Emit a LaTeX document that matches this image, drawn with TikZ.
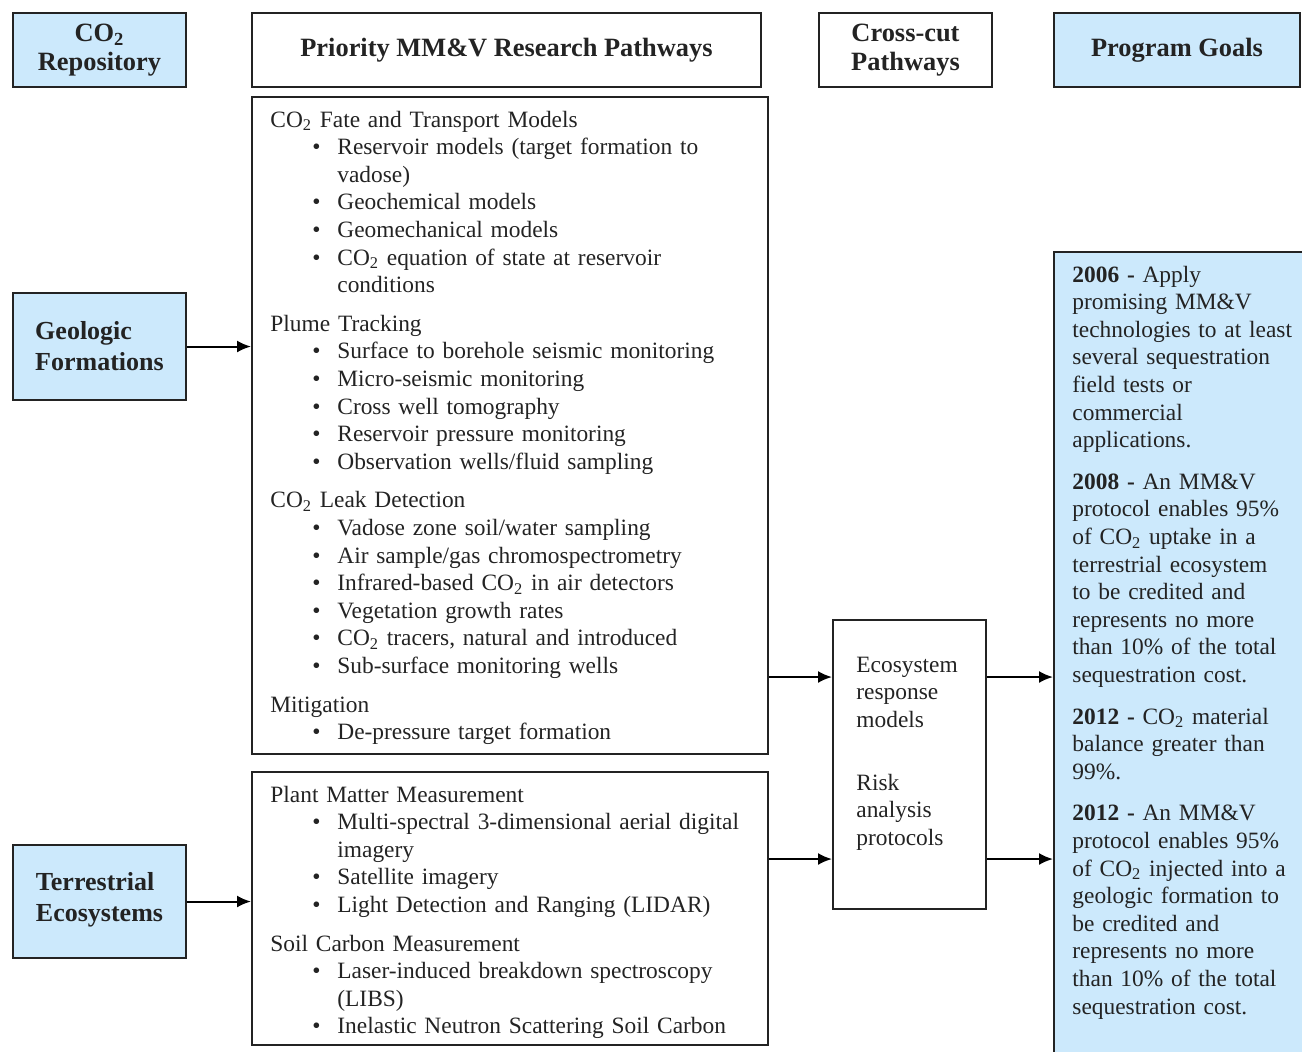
\documentclass[tikz,border=0pt]{standalone}
\usepackage{fontspec}
\setmainfont{Liberation Serif}
\usetikzlibrary{arrows.meta,positioning}

\definecolor{goalblue}{RGB}{204,233,252}
\definecolor{inkgray}{RGB}{35,35,35}

\newcommand{\COtwo}{CO\textsubscript{2}}
\newcommand{\bitem}[1]{\par\hangindent=33.5pt\hangafter=1\noindent\hspace*{21pt}\makebox[12.5pt][l]{\textbullet}#1}
\newcommand{\grp}[1]{\par\vspace{5.5pt}\noindent #1}
\newcommand{\goalgap}{\par\vspace{7pt}}

\begin{document}
\begin{tikzpicture}[x=0.5pt, y=0.5pt,
    box/.style = {draw=inkgray, line width=1pt, inner sep=0pt},
    bluebox/.style = {box, fill=goalblue},
    hdr/.style = {align=center, text=inkgray, font=\bfseries\fontsize{13.2}{14.5}\selectfont},
    side/.style = {bluebox, align=left, text=inkgray, font=\bfseries\fontsize{13}{15.5}\selectfont, minimum width=86.5pt},
    body/.style = {anchor=base west, inner sep=0pt, align=left, text=inkgray, font=\fontsize{11.7}{13.8}\selectfont},
    arr/.style = {-{Latex[length=7pt,width=6pt]}, line width=1pt, draw=black}]
    \useasboundingbox (0,0) rectangle (1302,-1051);
    \clip (0,0) rectangle (1302,-1051);
    % column headers
    \node[bluebox, hdr, minimum width=86.5pt, minimum height=37pt] (repo) at (99.5,-50) {\COtwo\\Repository};
    \node[box, hdr, minimum width=254.5pt, minimum height=37pt] (prio) at (506.5,-50) {Priority MM\&V Research Pathways};
    \node[box, hdr, minimum width=86.5pt, minimum height=37pt] (cross) at (905.5,-50) {Cross-cut\\Pathways};
    \node[bluebox, hdr, minimum width=123pt, minimum height=37pt] (goalhd) at (1177,-50) {Program Goals};
    % repositories
    \node[side, minimum height=53.5pt] (geo) at (99.5,-346.5) {Geologic\\Formations};
    \node[side, minimum height=56.5pt, text depth=5pt] (terr) at (99.5,-901.5) {Terrestrial\\Ecosystems};
    % pathway boxes
    \node[box, minimum width=258pt, minimum height=328.5pt] (box1) at (510,-425.5) {};
    \node[box, minimum width=258pt, minimum height=136.5pt] (box2) at (510,-908.5) {};
    \node[box, minimum width=76.5pt, minimum height=144.5pt] (cc) at (909.5,-764.5) {};
    \node[bluebox, minimum width=138pt, minimum height=414pt] (goals) at (1192,-666) {};

    \node[body, text width=252pt] (txtA) at ([shift={(19,-31)}]box1.north west) {%
        \COtwo{} Fate and Transport Models
        \bitem{Reservoir models (target formation to\newline vadose)}
        \bitem{Geochemical models}
        \bitem{Geomechanical models}
        \bitem{\COtwo{} equation of state at reservoir\newline conditions}
        \grp{Plume Tracking}
        \bitem{Surface to borehole seismic monitoring}
        \bitem{Micro-seismic monitoring}
        \bitem{Cross well tomography}
        \bitem{Reservoir pressure monitoring}
        \bitem{Observation wells/fluid sampling}
        \grp{\COtwo{} Leak Detection}
        \bitem{Vadose zone soil/water sampling}
        \bitem{Air sample/gas chromospectrometry}
        \bitem{Infrared-based \COtwo{} in air detectors}
        \bitem{Vegetation growth rates}
        \bitem{\COtwo{} tracers, natural and introduced}
        \bitem{Sub-surface monitoring wells}
        \grp{Mitigation}
        \bitem{De-pressure target formation}};
    \node[body, text width=252pt] (txtB) at ([shift={(19,-31)}]box2.north west) {%
        Plant Matter Measurement
        \bitem{Multi-spectral 3-dimensional aerial digital\newline imagery}
        \bitem{Satellite imagery}
        \bitem{Light Detection and Ranging (LIDAR)}
        \grp{Soil Carbon Measurement}
        \bitem{Laser-induced breakdown spectroscopy\newline (LIBS)}
        \bitem{Inelastic Neutron Scattering Soil Carbon}};
    \node[body, text width=70pt] (txtC) at ([shift={(24,-53)}]cc.north west) {%
        Ecosystem\newline response\newline models
        \par\vspace{17.75pt}
        Risk\newline analysis\newline protocols};
    \node[body, text width=140pt] (txtG) at ([shift={(19,-31)}]goals.north west) {%
        \textbf{2006 -} Apply\newline promising MM\&V\newline technologies to at least\newline several sequestration\newline field tests or\newline commercial\newline applications.
        \goalgap
        \textbf{2008 -} An MM\&V\newline protocol enables 95\%\newline of \COtwo{} uptake in a\newline terrestrial ecosystem\newline to be credited and\newline represents no more\newline than 10\% of the total\newline sequestration cost.
        \goalgap
        \textbf{2012 -} \COtwo{} material\newline balance greater than\newline 99\%.
        \goalgap
        \textbf{2012 -} An MM\&V\newline protocol enables 95\%\newline of \COtwo{} injected into a\newline geologic formation to\newline be credited and\newline represents no more\newline than 10\% of the total\newline sequestration cost.};

    % connectors
    \coordinate (lvA) at (0,-677);
    \coordinate (lvB) at (0,-859);
    \draw[arr] (geo.east) -- (geo.east -| box1.west);
    \draw[arr] (terr.east) -- (terr.east -| box2.west);
    \draw[arr] (box1.east |- lvA) -- (cc.west |- lvA);
    \draw[arr] (box2.east |- lvB) -- (cc.west |- lvB);
    \draw[arr] (cc.east |- lvA) -- (goals.west |- lvA);
    \draw[arr] (cc.east |- lvB) -- (goals.west |- lvB);
\end{tikzpicture}
\end{document}
